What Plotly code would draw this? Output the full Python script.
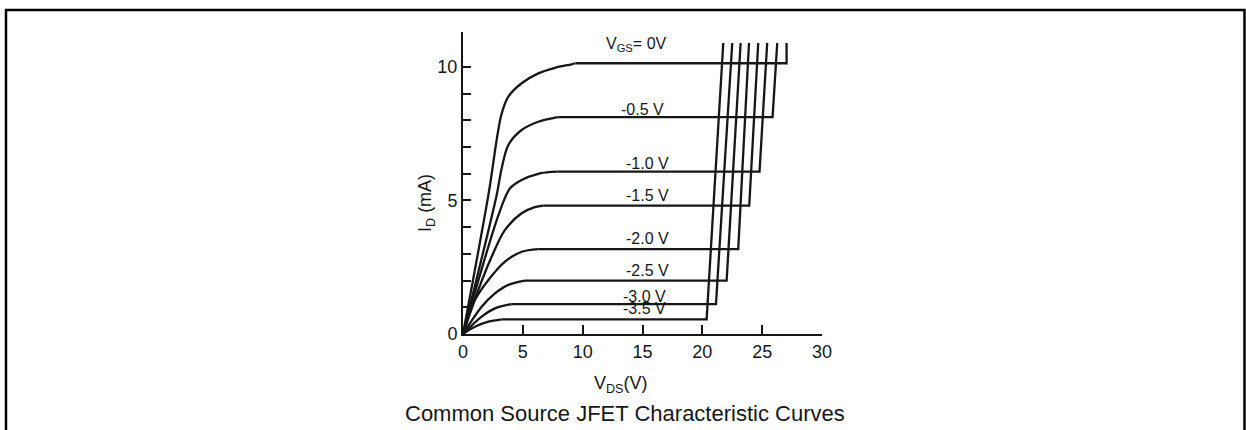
import plotly.graph_objects as go

# Gate-source voltage of each characteristic curve
vgs_labels = ["V<sub>GS</sub>= 0V",
              "-0.5 V", "-1.0 V", "-1.5 V", "-2.0 V", "-2.5 V", "-3.0 V", "-3.5 V"]

# Ohmic region / knee of each curve (V_DS in volts, I_D in mA)
knee_v = [
    [0, 2.12, 3.2, 3.79, 4.9, 6.29, 7.69, 9.08, 9.4],
    [0, 2.81, 3.23, 3.79, 4.9, 6.29, 7.69, 8.0],
    [0, 3.0, 3.93, 4.9, 6.29, 7.4, 7.9],
    [0, 1.28, 2.4, 3.51, 4.9, 6.0, 6.71],
    [0, 1.0, 2.12, 3.51, 4.9, 6.29],
    [0, 1.56, 2.67, 3.79, 5.18],
    [0, 1.56, 2.67, 4.07],
    [0, 1.0, 2.12, 3.23],
]
knee_i = [
    [0, 5.2, 8.2, 8.89, 9.39, 9.76, 9.97, 10.1, 10.14],
    [0, 5.2, 6.2, 7.08, 7.64, 7.95, 8.1, 8.12],
    [0, 4.5, 5.46, 5.77, 6.0, 6.07, 6.08],
    [0, 1.65, 2.9, 3.9, 4.52, 4.75, 4.81],
    [0, 1.27, 2.02, 2.71, 3.08, 3.18],
    [0, 1.02, 1.52, 1.84, 2.0],
    [0, 0.65, 0.96, 1.12],
    [0, 0.27, 0.46, 0.55],
]
# Saturation current, breakdown voltage and top of the avalanche line
sat_i = [10.14, 8.12, 6.08, 4.81, 3.18, 2.0, 1.12, 0.55]
breakdown_v = [27.04, 25.87, 24.78, 23.92, 23.0, 22.03, 21.14, 20.36]
top_v = [27.04, 26.26, 25.42, 24.67, 23.9, 23.2, 22.5, 21.75]
top_i = 10.9

# Label anchor points (data coordinates)
label_x = [14.5, 15.0, 15.4, 15.4, 15.4, 15.4, 15.2, 15.2]
label_y = [10.85, 8.4, 6.4, 5.2, 3.57, 2.36, 1.42, 0.97]

x_ticks = [0, 5, 10, 15, 20, 25, 30]
y_ticks = list(range(0, 11))
y_ticktext = ["0", "", "", "", "", "5", "", "", "", "", "10"]

W, H = 1246, 430
L, R, T, B = 463, 424, 32, 96
PW, PH = W - L - R, H - T - B


def px(x):
    return (x - L) / PW


def py(y):
    return (H - B - y) / PH


FONT = "Liberation Sans, Arial, sans-serif"
INK = "#161616"

fig = go.Figure()
for k in range(len(vgs_labels)):
    fig.add_trace(go.Scatter(
        x=knee_v[k], y=knee_i[k], mode="lines",
        line=dict(color=INK, width=2.3, shape="spline", smoothing=0.9),
        showlegend=False, hoverinfo="skip"))
    fig.add_trace(go.Scatter(
        x=[knee_v[k][-1], breakdown_v[k], top_v[k]],
        y=[sat_i[k], sat_i[k], top_i], mode="lines",
        line=dict(color=INK, width=2.3),
        showlegend=False, hoverinfo="skip"))
    fig.add_annotation(x=label_x[k], y=label_y[k], xref="x", yref="y",
                       xanchor="center", yanchor="middle",
                       text=vgs_labels[k], showarrow=False,
                       font=dict(family=FONT, size=16, color=INK))

fig.update_xaxes(range=[0, 30], tickvals=x_ticks, ticks="inside", ticklen=9,
                 tickwidth=1.6, tickcolor=INK, showline=True, linewidth=2,
                 linecolor=INK, showgrid=False, zeroline=False,
                 tickfont=dict(family=FONT, size=18, color=INK))
fig.update_yaxes(range=[0, 11.31], tickvals=y_ticks, ticktext=y_ticktext,
                 ticks="inside", ticklen=8, tickwidth=1.6, tickcolor=INK,
                 showline=True, linewidth=2, linecolor=INK, showgrid=False,
                 zeroline=False, tickfont=dict(family=FONT, size=18, color=INK))

# Axis titles and caption
fig.add_annotation(x=px(426), y=py(203), xref="paper", yref="paper",
                   xanchor="center", yanchor="middle",
                   text="I<sub>D</sub> (mA)",
                   textangle=-90, showarrow=False,
                   font=dict(family=FONT, size=18, color=INK))
fig.add_annotation(x=px(621), y=py(384), xref="paper", yref="paper",
                   xanchor="center", yanchor="middle",
                   text="V<sub>DS</sub>(V)",
                   showarrow=False,
                   font=dict(family=FONT, size=18, color=INK))
fig.add_annotation(x=px(625), y=py(413), xref="paper", yref="paper",
                   xanchor="center", yanchor="middle",
                   text="Common Source JFET Characteristic Curves", showarrow=False,
                   font=dict(family=FONT, size=22, color=INK))

# Outer frame
fig.add_shape(type="rect", xref="paper", yref="paper",
              x0=px(6), x1=px(1244.5), y0=py(445), y1=py(10),
              line=dict(color="black", width=2.5), layer="above")

fig.update_layout(width=W, height=H, margin=dict(l=L, r=R, t=T, b=B),
                  paper_bgcolor="white", plot_bgcolor="white")

fig.write_html("out.html")
